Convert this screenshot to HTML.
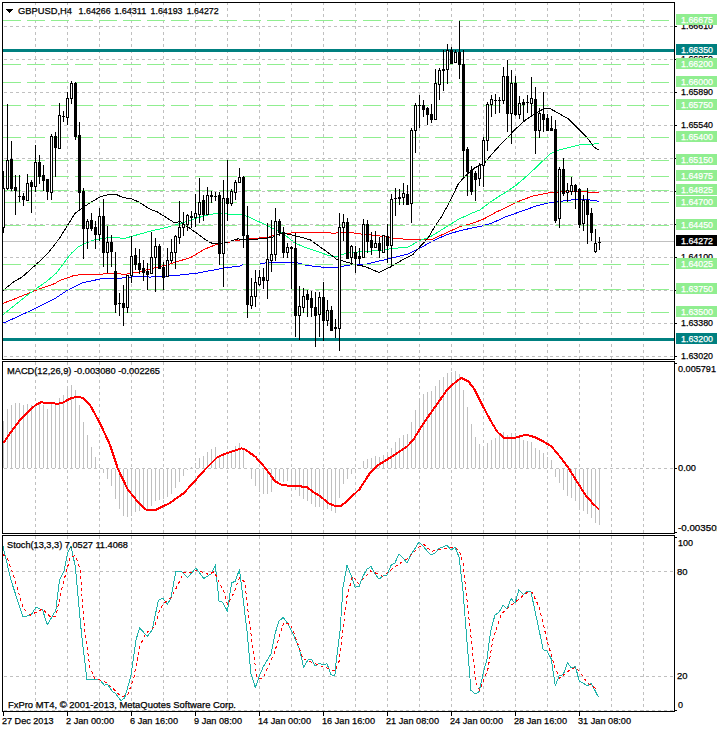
<!DOCTYPE html>
<html><head><meta charset="utf-8"><style>
html,body{margin:0;padding:0;background:#fff;width:717px;height:729px;overflow:hidden}
svg{position:absolute;left:0;top:0;font-family:"Liberation Sans", sans-serif}
</style></head><body>
<svg width="717" height="729" viewBox="0 0 717 729" shape-rendering="crispEdges">
<line x1="35.5" y1="3" x2="35.5" y2="359" stroke="#C0C0C0" stroke-dasharray="3 3" stroke-dashoffset="1"/>
<line x1="35.5" y1="362" x2="35.5" y2="533" stroke="#C0C0C0" stroke-dasharray="3 3" stroke-dashoffset="0"/>
<line x1="35.5" y1="536" x2="35.5" y2="711" stroke="#C0C0C0" stroke-dasharray="3 3" stroke-dashoffset="0"/>
<line x1="67.5" y1="3" x2="67.5" y2="359" stroke="#C0C0C0" stroke-dasharray="3 3" stroke-dashoffset="1"/>
<line x1="67.5" y1="362" x2="67.5" y2="533" stroke="#C0C0C0" stroke-dasharray="3 3" stroke-dashoffset="0"/>
<line x1="67.5" y1="536" x2="67.5" y2="711" stroke="#C0C0C0" stroke-dasharray="3 3" stroke-dashoffset="0"/>
<line x1="99.5" y1="3" x2="99.5" y2="359" stroke="#C0C0C0" stroke-dasharray="3 3" stroke-dashoffset="1"/>
<line x1="99.5" y1="362" x2="99.5" y2="533" stroke="#C0C0C0" stroke-dasharray="3 3" stroke-dashoffset="0"/>
<line x1="99.5" y1="536" x2="99.5" y2="711" stroke="#C0C0C0" stroke-dasharray="3 3" stroke-dashoffset="0"/>
<line x1="131.5" y1="3" x2="131.5" y2="359" stroke="#C0C0C0" stroke-dasharray="3 3" stroke-dashoffset="1"/>
<line x1="131.5" y1="362" x2="131.5" y2="533" stroke="#C0C0C0" stroke-dasharray="3 3" stroke-dashoffset="0"/>
<line x1="131.5" y1="536" x2="131.5" y2="711" stroke="#C0C0C0" stroke-dasharray="3 3" stroke-dashoffset="0"/>
<line x1="163.5" y1="3" x2="163.5" y2="359" stroke="#C0C0C0" stroke-dasharray="3 3" stroke-dashoffset="1"/>
<line x1="163.5" y1="362" x2="163.5" y2="533" stroke="#C0C0C0" stroke-dasharray="3 3" stroke-dashoffset="0"/>
<line x1="163.5" y1="536" x2="163.5" y2="711" stroke="#C0C0C0" stroke-dasharray="3 3" stroke-dashoffset="0"/>
<line x1="195.5" y1="3" x2="195.5" y2="359" stroke="#C0C0C0" stroke-dasharray="3 3" stroke-dashoffset="1"/>
<line x1="195.5" y1="362" x2="195.5" y2="533" stroke="#C0C0C0" stroke-dasharray="3 3" stroke-dashoffset="0"/>
<line x1="195.5" y1="536" x2="195.5" y2="711" stroke="#C0C0C0" stroke-dasharray="3 3" stroke-dashoffset="0"/>
<line x1="227.5" y1="3" x2="227.5" y2="359" stroke="#C0C0C0" stroke-dasharray="3 3" stroke-dashoffset="1"/>
<line x1="227.5" y1="362" x2="227.5" y2="533" stroke="#C0C0C0" stroke-dasharray="3 3" stroke-dashoffset="0"/>
<line x1="227.5" y1="536" x2="227.5" y2="711" stroke="#C0C0C0" stroke-dasharray="3 3" stroke-dashoffset="0"/>
<line x1="259.5" y1="3" x2="259.5" y2="359" stroke="#C0C0C0" stroke-dasharray="3 3" stroke-dashoffset="1"/>
<line x1="259.5" y1="362" x2="259.5" y2="533" stroke="#C0C0C0" stroke-dasharray="3 3" stroke-dashoffset="0"/>
<line x1="259.5" y1="536" x2="259.5" y2="711" stroke="#C0C0C0" stroke-dasharray="3 3" stroke-dashoffset="0"/>
<line x1="291.5" y1="3" x2="291.5" y2="359" stroke="#C0C0C0" stroke-dasharray="3 3" stroke-dashoffset="1"/>
<line x1="291.5" y1="362" x2="291.5" y2="533" stroke="#C0C0C0" stroke-dasharray="3 3" stroke-dashoffset="0"/>
<line x1="291.5" y1="536" x2="291.5" y2="711" stroke="#C0C0C0" stroke-dasharray="3 3" stroke-dashoffset="0"/>
<line x1="323.5" y1="3" x2="323.5" y2="359" stroke="#C0C0C0" stroke-dasharray="3 3" stroke-dashoffset="1"/>
<line x1="323.5" y1="362" x2="323.5" y2="533" stroke="#C0C0C0" stroke-dasharray="3 3" stroke-dashoffset="0"/>
<line x1="323.5" y1="536" x2="323.5" y2="711" stroke="#C0C0C0" stroke-dasharray="3 3" stroke-dashoffset="0"/>
<line x1="355.5" y1="3" x2="355.5" y2="359" stroke="#C0C0C0" stroke-dasharray="3 3" stroke-dashoffset="1"/>
<line x1="355.5" y1="362" x2="355.5" y2="533" stroke="#C0C0C0" stroke-dasharray="3 3" stroke-dashoffset="0"/>
<line x1="355.5" y1="536" x2="355.5" y2="711" stroke="#C0C0C0" stroke-dasharray="3 3" stroke-dashoffset="0"/>
<line x1="387.5" y1="3" x2="387.5" y2="359" stroke="#C0C0C0" stroke-dasharray="3 3" stroke-dashoffset="1"/>
<line x1="387.5" y1="362" x2="387.5" y2="533" stroke="#C0C0C0" stroke-dasharray="3 3" stroke-dashoffset="0"/>
<line x1="387.5" y1="536" x2="387.5" y2="711" stroke="#C0C0C0" stroke-dasharray="3 3" stroke-dashoffset="0"/>
<line x1="419.5" y1="3" x2="419.5" y2="359" stroke="#C0C0C0" stroke-dasharray="3 3" stroke-dashoffset="1"/>
<line x1="419.5" y1="362" x2="419.5" y2="533" stroke="#C0C0C0" stroke-dasharray="3 3" stroke-dashoffset="0"/>
<line x1="419.5" y1="536" x2="419.5" y2="711" stroke="#C0C0C0" stroke-dasharray="3 3" stroke-dashoffset="0"/>
<line x1="451.5" y1="3" x2="451.5" y2="359" stroke="#C0C0C0" stroke-dasharray="3 3" stroke-dashoffset="1"/>
<line x1="451.5" y1="362" x2="451.5" y2="533" stroke="#C0C0C0" stroke-dasharray="3 3" stroke-dashoffset="0"/>
<line x1="451.5" y1="536" x2="451.5" y2="711" stroke="#C0C0C0" stroke-dasharray="3 3" stroke-dashoffset="0"/>
<line x1="483.5" y1="3" x2="483.5" y2="359" stroke="#C0C0C0" stroke-dasharray="3 3" stroke-dashoffset="1"/>
<line x1="483.5" y1="362" x2="483.5" y2="533" stroke="#C0C0C0" stroke-dasharray="3 3" stroke-dashoffset="0"/>
<line x1="483.5" y1="536" x2="483.5" y2="711" stroke="#C0C0C0" stroke-dasharray="3 3" stroke-dashoffset="0"/>
<line x1="515.5" y1="3" x2="515.5" y2="359" stroke="#C0C0C0" stroke-dasharray="3 3" stroke-dashoffset="1"/>
<line x1="515.5" y1="362" x2="515.5" y2="533" stroke="#C0C0C0" stroke-dasharray="3 3" stroke-dashoffset="0"/>
<line x1="515.5" y1="536" x2="515.5" y2="711" stroke="#C0C0C0" stroke-dasharray="3 3" stroke-dashoffset="0"/>
<line x1="547.5" y1="3" x2="547.5" y2="359" stroke="#C0C0C0" stroke-dasharray="3 3" stroke-dashoffset="1"/>
<line x1="547.5" y1="362" x2="547.5" y2="533" stroke="#C0C0C0" stroke-dasharray="3 3" stroke-dashoffset="0"/>
<line x1="547.5" y1="536" x2="547.5" y2="711" stroke="#C0C0C0" stroke-dasharray="3 3" stroke-dashoffset="0"/>
<line x1="579.5" y1="3" x2="579.5" y2="359" stroke="#C0C0C0" stroke-dasharray="3 3" stroke-dashoffset="1"/>
<line x1="579.5" y1="362" x2="579.5" y2="533" stroke="#C0C0C0" stroke-dasharray="3 3" stroke-dashoffset="0"/>
<line x1="579.5" y1="536" x2="579.5" y2="711" stroke="#C0C0C0" stroke-dasharray="3 3" stroke-dashoffset="0"/>
<line x1="611.5" y1="3" x2="611.5" y2="359" stroke="#C0C0C0" stroke-dasharray="3 3" stroke-dashoffset="1"/>
<line x1="611.5" y1="362" x2="611.5" y2="533" stroke="#C0C0C0" stroke-dasharray="3 3" stroke-dashoffset="0"/>
<line x1="611.5" y1="536" x2="611.5" y2="711" stroke="#C0C0C0" stroke-dasharray="3 3" stroke-dashoffset="0"/>
<line x1="643.5" y1="3" x2="643.5" y2="359" stroke="#C0C0C0" stroke-dasharray="3 3" stroke-dashoffset="1"/>
<line x1="643.5" y1="362" x2="643.5" y2="533" stroke="#C0C0C0" stroke-dasharray="3 3" stroke-dashoffset="0"/>
<line x1="643.5" y1="536" x2="643.5" y2="711" stroke="#C0C0C0" stroke-dasharray="3 3" stroke-dashoffset="0"/>
<line x1="3" y1="26.5" x2="674" y2="26.5" stroke="#C0C0C0" stroke-dasharray="3 3" stroke-dashoffset="5"/>
<line x1="3" y1="59.5" x2="674" y2="59.5" stroke="#C0C0C0" stroke-dasharray="3 3" stroke-dashoffset="5"/>
<line x1="3" y1="92.5" x2="674" y2="92.5" stroke="#C0C0C0" stroke-dasharray="3 3" stroke-dashoffset="5"/>
<line x1="3" y1="125.5" x2="674" y2="125.5" stroke="#C0C0C0" stroke-dasharray="3 3" stroke-dashoffset="5"/>
<line x1="3" y1="158.5" x2="674" y2="158.5" stroke="#C0C0C0" stroke-dasharray="3 3" stroke-dashoffset="5"/>
<line x1="3" y1="191.5" x2="674" y2="191.5" stroke="#C0C0C0" stroke-dasharray="3 3" stroke-dashoffset="5"/>
<line x1="3" y1="224.5" x2="674" y2="224.5" stroke="#C0C0C0" stroke-dasharray="3 3" stroke-dashoffset="5"/>
<line x1="3" y1="257.5" x2="674" y2="257.5" stroke="#C0C0C0" stroke-dasharray="3 3" stroke-dashoffset="5"/>
<line x1="3" y1="290.5" x2="674" y2="290.5" stroke="#C0C0C0" stroke-dasharray="3 3" stroke-dashoffset="5"/>
<line x1="3" y1="323.5" x2="674" y2="323.5" stroke="#C0C0C0" stroke-dasharray="3 3" stroke-dashoffset="5"/>
<line x1="3" y1="356.5" x2="674" y2="356.5" stroke="#C0C0C0" stroke-dasharray="3 3" stroke-dashoffset="5"/>
<line x1="3" y1="468.5" x2="674" y2="468.5" stroke="#C0C0C0" stroke-dasharray="3 3" stroke-dashoffset="5"/>
<line x1="3" y1="571.5" x2="674" y2="571.5" stroke="#C0C0C0" stroke-dasharray="3 3" stroke-dashoffset="5"/>
<line x1="3" y1="676.5" x2="674" y2="676.5" stroke="#C0C0C0" stroke-dasharray="3 3" stroke-dashoffset="5"/>
<line x1="3" y1="710.5" x2="674" y2="710.5" stroke="#C0C0C0" stroke-dasharray="3 3" stroke-dashoffset="5"/>
<polyline points="2.7,323.3 13.7,318.5 32.9,309.6 54.9,298.6 67.2,290.4 70.6,288.7 82.7,282.7 100.8,278.9 120.4,278.2 138.5,276.3 150.0,277.1 177.4,275.3 198.0,273.0 215.9,269.6 226.8,267.5 239.7,266.3 243.0,264.5 259.0,264.5 261.3,263.3 271.4,262.5 296.5,262.5 306.5,265.3 315.3,266.5 330.0,267.8 337.5,267.2 352.6,264.5 364.5,264.5 390.6,258.4 397.8,256.6 407.8,254.0 420.0,248.1 433.7,240.5 447.4,234.4 461.2,230.3 481.7,226.1 491.3,223.4 505.0,217.1 520.4,211.6 535.9,206.1 546.0,203.5 549.0,202.5 554.0,202.3 573.6,199.6 589.0,199.9 599.0,201.3" fill="none" stroke="#0000FF" stroke-width="1"/>
<polyline points="2.7,303.4 13.7,299.3 35.7,290.4 54.9,283.5 60.0,280.4 75.1,275.1 97.8,274.4 112.9,273.3 124.9,274.4 138.5,272.1 150.0,268.9 163.7,265.5 172.0,263.4 191.2,257.2 204.9,249.0 217.2,244.2 226.8,242.8 240.0,239.9 256.3,238.3 268.9,237.0 277.7,234.1 287.7,233.3 302.8,232.0 330.0,232.9 335.0,233.6 337.5,232.4 352.6,232.6 355.1,233.6 367.7,234.5 382.7,236.4 397.8,238.9 420.0,239.4 432.3,239.2 447.4,232.3 461.2,226.1 472.1,223.4 483.1,219.3 496.8,211.7 505.0,208.2 518.7,201.3 532.4,196.2 551.3,192.4 577.0,191.0 590.7,192.4 599.0,192.4" fill="none" stroke="#FF0000" stroke-width="1"/>
<polyline points="2.7,315.0 13.7,306.1 24.7,297.2 35.7,289.0 46.6,281.4 56.2,273.2 64.5,262.2 71.3,253.3 78.2,247.1 85.0,243.4 93.2,240.1 105.3,238.1 114.4,237.1 123.4,238.6 131.0,236.6 141.5,233.6 150.0,231.2 163.7,228.1 177.4,224.3 188.4,220.9 196.6,218.1 207.6,215.0 215.9,213.6 226.8,214.0 240.0,214.4 247.5,216.3 255.1,220.1 265.1,224.5 272.6,228.2 277.7,230.8 285.2,235.1 295.2,243.3 305.3,247.4 315.3,250.8 330.0,255.9 336.3,256.5 346.3,253.3 365.1,251.2 380.2,250.8 390.2,248.7 407.8,247.1 420.0,240.5 431.0,236.4 442.0,229.6 458.4,219.3 472.1,213.1 480.4,209.7 491.3,201.4 499.6,196.0 505.0,192.7 515.3,185.9 527.3,175.6 539.3,164.4 549.6,154.2 558.2,150.2 570.2,147.3 580.4,144.7 590.7,144.4 599.0,143.4" fill="none" stroke="#00FF7F" stroke-width="1"/>
<polyline points="2.7,291.0 8.2,286.2 15.1,280.8 21.9,277.3 30.2,269.8 37.0,263.6 46.6,254.7 54.9,244.4 60.0,237.4 67.6,225.3 75.1,213.2 81.1,208.7 90.2,202.7 100.8,196.6 109.8,194.3 115.9,194.3 123.4,197.8 131.0,198.4 140.0,202.7 150.0,209.2 156.9,211.7 165.1,216.8 174.7,222.9 180.0,221.5 188.2,227.2 198.5,234.4 206.8,240.6 212.9,243.7 219.1,243.7 227.3,242.2 237.6,239.0 256.3,239.2 272.6,237.4 277.7,234.5 283.9,233.3 292.7,235.1 300.2,237.0 310.3,239.9 320.3,247.1 329.1,253.3 336.3,259.0 342.6,260.9 355.1,264.6 365.1,266.5 379.0,272.5 391.5,266.5 402.8,259.6 412.8,254.6 420.0,246.7 428.2,237.8 435.1,226.1 442.0,215.9 450.2,200.8 458.4,183.6 466.6,174.7 474.9,167.8 484.5,163.0 495.5,150.0 505.0,139.9 515.3,129.3 525.6,119.9 535.9,113.0 544.4,108.4 549.6,108.4 556.4,112.1 568.4,119.0 577.0,127.6 587.3,137.9 594.2,147.3 599.0,150.2" fill="none" stroke="#000000" stroke-width="1"/>
<line x1="3" y1="20.5" x2="674" y2="20.5" stroke="#90EE90" stroke-dasharray="18 6"/>
<line x1="3" y1="64.5" x2="674" y2="64.5" stroke="#90EE90" stroke-dasharray="18 6"/>
<line x1="3" y1="82.5" x2="674" y2="82.5" stroke="#90EE90" stroke-dasharray="18 6"/>
<line x1="3" y1="105.5" x2="674" y2="105.5" stroke="#90EE90" stroke-dasharray="18 6"/>
<line x1="3" y1="137.5" x2="674" y2="137.5" stroke="#90EE90" stroke-dasharray="18 6"/>
<line x1="3" y1="160.5" x2="674" y2="160.5" stroke="#90EE90" stroke-dasharray="18 6"/>
<line x1="3" y1="176.5" x2="674" y2="176.5" stroke="#90EE90" stroke-dasharray="18 6"/>
<line x1="3" y1="190.5" x2="674" y2="190.5" stroke="#90EE90" stroke-dasharray="18 6"/>
<line x1="3" y1="202.5" x2="674" y2="202.5" stroke="#90EE90" stroke-dasharray="18 6"/>
<line x1="3" y1="225.5" x2="674" y2="225.5" stroke="#90EE90" stroke-dasharray="18 6"/>
<line x1="3" y1="264.5" x2="674" y2="264.5" stroke="#90EE90" stroke-dasharray="18 6"/>
<line x1="3" y1="289.5" x2="674" y2="289.5" stroke="#90EE90" stroke-dasharray="18 6"/>
<line x1="3" y1="312.5" x2="674" y2="312.5" stroke="#90EE90" stroke-dasharray="18 6"/>
<line x1="3" y1="241.5" x2="674" y2="241.5" stroke="#C0C0C0"/>
<rect x="3" y="49" width="671" height="3" fill="#008080"/>
<rect x="3" y="338" width="671" height="3" fill="#008080"/>
<g fill="#000"><rect x="3" y="171" width="1" height="62"/><rect x="2" y="188" width="3" height="40"/><rect x="3" y="189" width="1" height="38" fill="#fff"/><rect x="7" y="104" width="1" height="86"/><rect x="6" y="160" width="3" height="29"/><rect x="7" y="161" width="1" height="27" fill="#fff"/><rect x="11" y="141" width="1" height="50"/><rect x="10" y="159" width="3" height="30"/><rect x="15" y="175" width="1" height="40"/><rect x="14" y="187" width="3" height="4"/><rect x="19" y="175" width="1" height="27"/><rect x="18" y="196" width="3" height="1"/><rect x="23" y="193" width="1" height="13"/><rect x="22" y="196" width="3" height="4"/><rect x="27" y="174" width="1" height="27"/><rect x="26" y="183" width="3" height="18"/><rect x="27" y="184" width="1" height="16" fill="#fff"/><rect x="31" y="180" width="1" height="33"/><rect x="30" y="182" width="3" height="5"/><rect x="35" y="145" width="1" height="47"/><rect x="34" y="162" width="3" height="25"/><rect x="35" y="163" width="1" height="23" fill="#fff"/><rect x="39" y="155" width="1" height="29"/><rect x="38" y="162" width="3" height="15"/><rect x="43" y="165" width="1" height="26"/><rect x="42" y="175" width="3" height="6"/><rect x="47" y="179" width="1" height="21"/><rect x="46" y="179" width="3" height="13"/><rect x="51" y="134" width="1" height="66"/><rect x="50" y="136" width="3" height="57"/><rect x="51" y="137" width="1" height="55" fill="#fff"/><rect x="55" y="132" width="1" height="45"/><rect x="54" y="136" width="3" height="12"/><rect x="59" y="103" width="1" height="46"/><rect x="58" y="115" width="3" height="34"/><rect x="59" y="116" width="1" height="32" fill="#fff"/><rect x="63" y="111" width="1" height="11"/><rect x="62" y="116" width="3" height="1"/><rect x="67" y="92" width="1" height="33"/><rect x="66" y="98" width="3" height="20"/><rect x="67" y="99" width="1" height="18" fill="#fff"/><rect x="71" y="81" width="1" height="23"/><rect x="70" y="83" width="3" height="16"/><rect x="71" y="84" width="1" height="14" fill="#fff"/><rect x="75" y="82" width="1" height="58"/><rect x="74" y="83" width="3" height="54"/><rect x="79" y="122" width="1" height="88"/><rect x="78" y="135" width="3" height="58"/><rect x="83" y="188" width="1" height="71"/><rect x="82" y="191" width="3" height="38"/><rect x="87" y="219" width="1" height="30"/><rect x="86" y="221" width="3" height="8"/><rect x="87" y="222" width="1" height="6" fill="#fff"/><rect x="91" y="213" width="1" height="18"/><rect x="90" y="220" width="3" height="9"/><rect x="95" y="221" width="1" height="28"/><rect x="94" y="227" width="3" height="8"/><rect x="99" y="208" width="1" height="33"/><rect x="98" y="216" width="3" height="19"/><rect x="99" y="217" width="1" height="17" fill="#fff"/><rect x="103" y="199" width="1" height="68"/><rect x="102" y="216" width="3" height="37"/><rect x="107" y="226" width="1" height="47"/><rect x="106" y="242" width="3" height="11"/><rect x="107" y="243" width="1" height="9" fill="#fff"/><rect x="111" y="235" width="1" height="32"/><rect x="110" y="242" width="3" height="10"/><rect x="115" y="252" width="1" height="61"/><rect x="114" y="271" width="3" height="34"/><rect x="119" y="293" width="1" height="23"/><rect x="118" y="303" width="3" height="1"/><rect x="123" y="285" width="1" height="41"/><rect x="122" y="303" width="3" height="5"/><rect x="127" y="275" width="1" height="38"/><rect x="126" y="275" width="3" height="33"/><rect x="127" y="276" width="1" height="31" fill="#fff"/><rect x="131" y="236" width="1" height="47"/><rect x="130" y="256" width="3" height="20"/><rect x="131" y="257" width="1" height="18" fill="#fff"/><rect x="135" y="248" width="1" height="22"/><rect x="134" y="255" width="3" height="10"/><rect x="139" y="249" width="1" height="25"/><rect x="138" y="263" width="3" height="7"/><rect x="143" y="260" width="1" height="21"/><rect x="142" y="268" width="3" height="5"/><rect x="147" y="263" width="1" height="27"/><rect x="146" y="271" width="3" height="4"/><rect x="151" y="232" width="1" height="42"/><rect x="150" y="257" width="3" height="17"/><rect x="151" y="258" width="1" height="15" fill="#fff"/><rect x="155" y="238" width="1" height="54"/><rect x="154" y="246" width="3" height="12"/><rect x="155" y="247" width="1" height="10" fill="#fff"/><rect x="159" y="244" width="1" height="25"/><rect x="158" y="246" width="3" height="23"/><rect x="163" y="262" width="1" height="28"/><rect x="162" y="267" width="3" height="11"/><rect x="167" y="248" width="1" height="29"/><rect x="166" y="260" width="3" height="17"/><rect x="167" y="261" width="1" height="15" fill="#fff"/><rect x="171" y="239" width="1" height="24"/><rect x="170" y="252" width="3" height="9"/><rect x="171" y="253" width="1" height="7" fill="#fff"/><rect x="175" y="235" width="1" height="34"/><rect x="174" y="236" width="3" height="17"/><rect x="175" y="237" width="1" height="15" fill="#fff"/><rect x="179" y="201" width="1" height="43"/><rect x="178" y="227" width="3" height="11"/><rect x="179" y="228" width="1" height="9" fill="#fff"/><rect x="183" y="212" width="1" height="24"/><rect x="182" y="224" width="3" height="4"/><rect x="183" y="225" width="1" height="2" fill="#fff"/><rect x="187" y="214" width="1" height="17"/><rect x="186" y="215" width="3" height="10"/><rect x="187" y="216" width="1" height="8" fill="#fff"/><rect x="191" y="211" width="1" height="17"/><rect x="190" y="216" width="3" height="2"/><rect x="195" y="194" width="1" height="33"/><rect x="194" y="213" width="3" height="5"/><rect x="195" y="214" width="1" height="3" fill="#fff"/><rect x="199" y="178" width="1" height="45"/><rect x="198" y="202" width="3" height="13"/><rect x="199" y="203" width="1" height="11" fill="#fff"/><rect x="203" y="195" width="1" height="26"/><rect x="202" y="200" width="3" height="15"/><rect x="207" y="187" width="1" height="28"/><rect x="206" y="195" width="3" height="20"/><rect x="207" y="196" width="1" height="18" fill="#fff"/><rect x="211" y="191" width="1" height="12"/><rect x="210" y="195" width="3" height="2"/><rect x="215" y="192" width="1" height="9"/><rect x="214" y="196" width="3" height="1"/><rect x="219" y="192" width="1" height="73"/><rect x="218" y="195" width="3" height="59"/><rect x="223" y="180" width="1" height="107"/><rect x="222" y="198" width="3" height="56"/><rect x="223" y="199" width="1" height="54" fill="#fff"/><rect x="227" y="160" width="1" height="61"/><rect x="226" y="198" width="3" height="6"/><rect x="231" y="189" width="1" height="17"/><rect x="230" y="191" width="3" height="13"/><rect x="231" y="192" width="1" height="11" fill="#fff"/><rect x="235" y="180" width="1" height="20"/><rect x="234" y="182" width="3" height="11"/><rect x="235" y="183" width="1" height="9" fill="#fff"/><rect x="239" y="168" width="1" height="15"/><rect x="238" y="177" width="3" height="6"/><rect x="239" y="178" width="1" height="4" fill="#fff"/><rect x="243" y="176" width="1" height="72"/><rect x="242" y="177" width="3" height="59"/><rect x="247" y="206" width="1" height="112"/><rect x="246" y="235" width="3" height="70"/><rect x="251" y="278" width="1" height="31"/><rect x="250" y="296" width="3" height="10"/><rect x="251" y="297" width="1" height="8" fill="#fff"/><rect x="255" y="270" width="1" height="37"/><rect x="254" y="282" width="3" height="15"/><rect x="255" y="283" width="1" height="13" fill="#fff"/><rect x="259" y="270" width="1" height="16"/><rect x="258" y="277" width="3" height="8"/><rect x="259" y="278" width="1" height="6" fill="#fff"/><rect x="263" y="268" width="1" height="21"/><rect x="262" y="277" width="3" height="4"/><rect x="267" y="223" width="1" height="76"/><rect x="266" y="259" width="3" height="22"/><rect x="267" y="260" width="1" height="20" fill="#fff"/><rect x="271" y="220" width="1" height="52"/><rect x="270" y="254" width="3" height="7"/><rect x="271" y="255" width="1" height="5" fill="#fff"/><rect x="275" y="208" width="1" height="53"/><rect x="274" y="221" width="3" height="34"/><rect x="275" y="222" width="1" height="32" fill="#fff"/><rect x="279" y="219" width="1" height="17"/><rect x="278" y="221" width="3" height="12"/><rect x="283" y="227" width="1" height="31"/><rect x="282" y="232" width="3" height="21"/><rect x="287" y="243" width="1" height="15"/><rect x="286" y="247" width="3" height="6"/><rect x="287" y="248" width="1" height="4" fill="#fff"/><rect x="291" y="246" width="1" height="43"/><rect x="290" y="247" width="3" height="2"/><rect x="295" y="233" width="1" height="104"/><rect x="294" y="248" width="3" height="68"/><rect x="299" y="286" width="1" height="54"/><rect x="298" y="306" width="3" height="10"/><rect x="299" y="307" width="1" height="8" fill="#fff"/><rect x="303" y="288" width="1" height="25"/><rect x="302" y="296" width="3" height="12"/><rect x="303" y="297" width="1" height="10" fill="#fff"/><rect x="307" y="290" width="1" height="27"/><rect x="306" y="294" width="3" height="6"/><rect x="311" y="291" width="1" height="26"/><rect x="310" y="298" width="3" height="10"/><rect x="315" y="292" width="1" height="55"/><rect x="314" y="307" width="3" height="9"/><rect x="319" y="292" width="1" height="45"/><rect x="318" y="297" width="3" height="18"/><rect x="319" y="298" width="1" height="16" fill="#fff"/><rect x="323" y="282" width="1" height="59"/><rect x="322" y="297" width="3" height="24"/><rect x="327" y="300" width="1" height="26"/><rect x="326" y="310" width="3" height="11"/><rect x="327" y="311" width="1" height="9" fill="#fff"/><rect x="331" y="306" width="1" height="25"/><rect x="330" y="310" width="3" height="21"/><rect x="335" y="319" width="1" height="19"/><rect x="334" y="327" width="3" height="2"/><rect x="339" y="213" width="1" height="138"/><rect x="338" y="227" width="3" height="102"/><rect x="339" y="228" width="1" height="100" fill="#fff"/><rect x="343" y="214" width="1" height="27"/><rect x="342" y="222" width="3" height="6"/><rect x="343" y="223" width="1" height="4" fill="#fff"/><rect x="347" y="218" width="1" height="41"/><rect x="346" y="222" width="3" height="37"/><rect x="351" y="245" width="1" height="20"/><rect x="350" y="246" width="3" height="12"/><rect x="351" y="247" width="1" height="10" fill="#fff"/><rect x="355" y="246" width="1" height="27"/><rect x="354" y="252" width="3" height="7"/><rect x="359" y="248" width="1" height="16"/><rect x="358" y="256" width="3" height="3"/><rect x="363" y="219" width="1" height="39"/><rect x="362" y="224" width="3" height="34"/><rect x="363" y="225" width="1" height="32" fill="#fff"/><rect x="367" y="220" width="1" height="33"/><rect x="366" y="224" width="3" height="18"/><rect x="371" y="232" width="1" height="23"/><rect x="370" y="240" width="3" height="8"/><rect x="375" y="231" width="1" height="17"/><rect x="374" y="243" width="3" height="5"/><rect x="375" y="244" width="1" height="3" fill="#fff"/><rect x="379" y="237" width="1" height="21"/><rect x="378" y="243" width="3" height="8"/><rect x="383" y="235" width="1" height="18"/><rect x="382" y="235" width="3" height="18"/><rect x="383" y="236" width="1" height="16" fill="#fff"/><rect x="387" y="224" width="1" height="39"/><rect x="386" y="236" width="3" height="10"/><rect x="391" y="194" width="1" height="73"/><rect x="390" y="199" width="3" height="47"/><rect x="391" y="200" width="1" height="45" fill="#fff"/><rect x="395" y="188" width="1" height="28"/><rect x="394" y="198" width="3" height="1"/><rect x="399" y="189" width="1" height="16"/><rect x="398" y="197" width="3" height="2"/><rect x="403" y="183" width="1" height="22"/><rect x="402" y="193" width="3" height="5"/><rect x="403" y="194" width="1" height="3" fill="#fff"/><rect x="407" y="185" width="1" height="20"/><rect x="406" y="194" width="3" height="11"/><rect x="411" y="128" width="1" height="95"/><rect x="410" y="130" width="3" height="74"/><rect x="411" y="131" width="1" height="72" fill="#fff"/><rect x="415" y="103" width="1" height="50"/><rect x="414" y="105" width="3" height="26"/><rect x="415" y="106" width="1" height="24" fill="#fff"/><rect x="419" y="95" width="1" height="33"/><rect x="418" y="105" width="3" height="1"/><rect x="423" y="100" width="1" height="17"/><rect x="422" y="105" width="3" height="5"/><rect x="427" y="107" width="1" height="18"/><rect x="426" y="108" width="3" height="7"/><rect x="431" y="104" width="1" height="19"/><rect x="430" y="114" width="3" height="6"/><rect x="435" y="69" width="1" height="51"/><rect x="434" y="83" width="3" height="37"/><rect x="435" y="84" width="1" height="35" fill="#fff"/><rect x="439" y="68" width="1" height="32"/><rect x="438" y="70" width="3" height="15"/><rect x="439" y="71" width="1" height="13" fill="#fff"/><rect x="443" y="50" width="1" height="41"/><rect x="442" y="69" width="3" height="2"/><rect x="447" y="44" width="1" height="40"/><rect x="446" y="50" width="3" height="20"/><rect x="447" y="51" width="1" height="18" fill="#fff"/><rect x="451" y="47" width="1" height="17"/><rect x="450" y="50" width="3" height="14"/><rect x="455" y="50" width="1" height="13"/><rect x="454" y="52" width="3" height="11"/><rect x="455" y="53" width="1" height="9" fill="#fff"/><rect x="459" y="21" width="1" height="58"/><rect x="458" y="52" width="3" height="13"/><rect x="463" y="50" width="1" height="129"/><rect x="462" y="64" width="3" height="87"/><rect x="467" y="147" width="1" height="49"/><rect x="466" y="149" width="3" height="23"/><rect x="471" y="166" width="1" height="29"/><rect x="470" y="170" width="3" height="22"/><rect x="475" y="171" width="1" height="30"/><rect x="474" y="173" width="3" height="7"/><rect x="479" y="163" width="1" height="23"/><rect x="478" y="165" width="3" height="14"/><rect x="479" y="166" width="1" height="12" fill="#fff"/><rect x="483" y="137" width="1" height="50"/><rect x="482" y="140" width="3" height="26"/><rect x="483" y="141" width="1" height="24" fill="#fff"/><rect x="487" y="102" width="1" height="49"/><rect x="486" y="104" width="3" height="37"/><rect x="487" y="105" width="1" height="35" fill="#fff"/><rect x="491" y="95" width="1" height="22"/><rect x="490" y="99" width="3" height="6"/><rect x="491" y="100" width="1" height="4" fill="#fff"/><rect x="495" y="94" width="1" height="20"/><rect x="494" y="100" width="3" height="1"/><rect x="499" y="97" width="1" height="16"/><rect x="498" y="100" width="3" height="1"/><rect x="503" y="67" width="1" height="37"/><rect x="502" y="76" width="3" height="25"/><rect x="503" y="77" width="1" height="23" fill="#fff"/><rect x="507" y="60" width="1" height="72"/><rect x="506" y="76" width="3" height="38"/><rect x="511" y="70" width="1" height="74"/><rect x="510" y="83" width="3" height="31"/><rect x="511" y="84" width="1" height="29" fill="#fff"/><rect x="515" y="76" width="1" height="40"/><rect x="514" y="83" width="3" height="32"/><rect x="519" y="96" width="1" height="23"/><rect x="518" y="103" width="3" height="12"/><rect x="519" y="104" width="1" height="10" fill="#fff"/><rect x="523" y="99" width="1" height="22"/><rect x="522" y="102" width="3" height="3"/><rect x="527" y="95" width="1" height="18"/><rect x="526" y="102" width="3" height="1"/><rect x="531" y="77" width="1" height="38"/><rect x="530" y="98" width="3" height="6"/><rect x="531" y="99" width="1" height="4" fill="#fff"/><rect x="535" y="87" width="1" height="67"/><rect x="534" y="99" width="3" height="32"/><rect x="539" y="108" width="1" height="30"/><rect x="538" y="113" width="3" height="18"/><rect x="539" y="114" width="1" height="16" fill="#fff"/><rect x="543" y="92" width="1" height="40"/><rect x="542" y="114" width="3" height="6"/><rect x="547" y="114" width="1" height="17"/><rect x="546" y="118" width="3" height="13"/><rect x="551" y="116" width="1" height="15"/><rect x="550" y="128" width="3" height="3"/><rect x="555" y="120" width="1" height="103"/><rect x="554" y="129" width="3" height="92"/><rect x="559" y="167" width="1" height="61"/><rect x="558" y="169" width="3" height="50"/><rect x="559" y="170" width="1" height="48" fill="#fff"/><rect x="563" y="158" width="1" height="38"/><rect x="562" y="169" width="3" height="25"/><rect x="567" y="183" width="1" height="19"/><rect x="566" y="190" width="3" height="3"/><rect x="567" y="191" width="1" height="1" fill="#fff"/><rect x="571" y="177" width="1" height="18"/><rect x="570" y="185" width="3" height="7"/><rect x="571" y="186" width="1" height="5" fill="#fff"/><rect x="575" y="184" width="1" height="25"/><rect x="574" y="185" width="3" height="7"/><rect x="579" y="188" width="1" height="40"/><rect x="578" y="189" width="3" height="36"/><rect x="583" y="195" width="1" height="36"/><rect x="582" y="200" width="3" height="24"/><rect x="583" y="201" width="1" height="22" fill="#fff"/><rect x="587" y="188" width="1" height="56"/><rect x="586" y="200" width="3" height="15"/><rect x="591" y="208" width="1" height="33"/><rect x="590" y="213" width="3" height="20"/><rect x="595" y="229" width="1" height="24"/><rect x="594" y="243" width="3" height="9"/><rect x="595" y="244" width="1" height="7" fill="#fff"/><rect x="599" y="237" width="1" height="13"/><rect x="598" y="242" width="3" height="1"/></g>
<g fill="#C0C0C0"><rect x="3" y="421" width="1" height="47"/><rect x="7" y="409" width="1" height="59"/><rect x="11" y="405" width="1" height="63"/><rect x="15" y="403" width="1" height="65"/><rect x="19" y="403" width="1" height="65"/><rect x="23" y="405" width="1" height="63"/><rect x="27" y="404" width="1" height="64"/><rect x="31" y="405" width="1" height="63"/><rect x="35" y="404" width="1" height="64"/><rect x="39" y="403" width="1" height="65"/><rect x="43" y="405" width="1" height="63"/><rect x="47" y="409" width="1" height="59"/><rect x="51" y="404" width="1" height="64"/><rect x="55" y="404" width="1" height="64"/><rect x="59" y="398" width="1" height="70"/><rect x="63" y="395" width="1" height="73"/><rect x="67" y="386" width="1" height="82"/><rect x="71" y="385" width="1" height="83"/><rect x="75" y="390" width="1" height="78"/><rect x="79" y="405" width="1" height="63"/><rect x="83" y="422" width="1" height="46"/><rect x="87" y="435" width="1" height="33"/><rect x="91" y="447" width="1" height="21"/><rect x="95" y="457" width="1" height="11"/><rect x="99" y="464" width="1" height="4"/><rect x="103" y="469" width="1" height="4"/><rect x="107" y="469" width="1" height="10"/><rect x="111" y="469" width="1" height="17"/><rect x="115" y="469" width="1" height="30"/><rect x="119" y="469" width="1" height="40"/><rect x="123" y="469" width="1" height="47"/><rect x="127" y="469" width="1" height="48"/><rect x="131" y="469" width="1" height="47"/><rect x="135" y="469" width="1" height="43"/><rect x="139" y="469" width="1" height="42"/><rect x="143" y="469" width="1" height="39"/><rect x="147" y="469" width="1" height="40"/><rect x="151" y="469" width="1" height="37"/><rect x="155" y="469" width="1" height="32"/><rect x="159" y="469" width="1" height="31"/><rect x="163" y="469" width="1" height="30"/><rect x="167" y="469" width="1" height="28"/><rect x="171" y="469" width="1" height="25"/><rect x="175" y="469" width="1" height="19"/><rect x="179" y="469" width="1" height="13"/><rect x="183" y="469" width="1" height="7"/><rect x="187" y="469" width="1" height="1"/><rect x="191" y="467" width="1" height="1"/><rect x="195" y="463" width="1" height="5"/><rect x="199" y="458" width="1" height="10"/><rect x="203" y="456" width="1" height="12"/><rect x="207" y="452" width="1" height="16"/><rect x="211" y="449" width="1" height="19"/><rect x="215" y="447" width="1" height="21"/><rect x="219" y="456" width="1" height="12"/><rect x="223" y="454" width="1" height="14"/><rect x="227" y="451" width="1" height="17"/><rect x="231" y="450" width="1" height="18"/><rect x="235" y="446" width="1" height="22"/><rect x="239" y="443" width="1" height="25"/><rect x="243" y="449" width="1" height="19"/><rect x="251" y="469" width="1" height="10"/><rect x="255" y="469" width="1" height="17"/><rect x="259" y="469" width="1" height="23"/><rect x="263" y="469" width="1" height="25"/><rect x="267" y="469" width="1" height="25"/><rect x="271" y="469" width="1" height="23"/><rect x="275" y="469" width="1" height="12"/><rect x="279" y="469" width="1" height="12"/><rect x="283" y="469" width="1" height="13"/><rect x="287" y="469" width="1" height="12"/><rect x="291" y="469" width="1" height="15"/><rect x="295" y="469" width="1" height="21"/><rect x="299" y="469" width="1" height="27"/><rect x="303" y="469" width="1" height="30"/><rect x="307" y="469" width="1" height="32"/><rect x="311" y="469" width="1" height="35"/><rect x="315" y="469" width="1" height="38"/><rect x="319" y="469" width="1" height="38"/><rect x="323" y="469" width="1" height="41"/><rect x="327" y="469" width="1" height="40"/><rect x="331" y="469" width="1" height="42"/><rect x="335" y="469" width="1" height="44"/><rect x="339" y="469" width="1" height="29"/><rect x="343" y="469" width="1" height="15"/><rect x="347" y="469" width="1" height="10"/><rect x="351" y="469" width="1" height="5"/><rect x="355" y="469" width="1" height="2"/><rect x="363" y="461" width="1" height="7"/><rect x="367" y="459" width="1" height="9"/><rect x="371" y="458" width="1" height="10"/><rect x="375" y="456" width="1" height="12"/><rect x="379" y="457" width="1" height="11"/><rect x="383" y="455" width="1" height="13"/><rect x="387" y="452" width="1" height="16"/><rect x="391" y="448" width="1" height="20"/><rect x="395" y="442" width="1" height="26"/><rect x="399" y="438" width="1" height="30"/><rect x="403" y="435" width="1" height="33"/><rect x="407" y="434" width="1" height="34"/><rect x="411" y="422" width="1" height="46"/><rect x="415" y="410" width="1" height="58"/><rect x="419" y="398" width="1" height="70"/><rect x="423" y="394" width="1" height="74"/><rect x="427" y="392" width="1" height="76"/><rect x="431" y="391" width="1" height="77"/><rect x="435" y="386" width="1" height="82"/><rect x="439" y="380" width="1" height="88"/><rect x="443" y="377" width="1" height="91"/><rect x="447" y="373" width="1" height="95"/><rect x="451" y="372" width="1" height="96"/><rect x="455" y="371" width="1" height="97"/><rect x="459" y="374" width="1" height="94"/><rect x="463" y="390" width="1" height="78"/><rect x="467" y="407" width="1" height="61"/><rect x="471" y="424" width="1" height="44"/><rect x="475" y="437" width="1" height="31"/><rect x="479" y="444" width="1" height="24"/><rect x="483" y="446" width="1" height="22"/><rect x="487" y="443" width="1" height="25"/><rect x="491" y="440" width="1" height="28"/><rect x="495" y="438" width="1" height="30"/><rect x="499" y="435" width="1" height="33"/><rect x="503" y="432" width="1" height="36"/><rect x="507" y="435" width="1" height="33"/><rect x="511" y="433" width="1" height="35"/><rect x="515" y="433" width="1" height="35"/><rect x="519" y="436" width="1" height="32"/><rect x="523" y="440" width="1" height="28"/><rect x="527" y="441" width="1" height="27"/><rect x="531" y="442" width="1" height="26"/><rect x="535" y="448" width="1" height="20"/><rect x="539" y="450" width="1" height="18"/><rect x="543" y="453" width="1" height="15"/><rect x="547" y="457" width="1" height="11"/><rect x="551" y="460" width="1" height="8"/><rect x="555" y="469" width="1" height="8"/><rect x="559" y="469" width="1" height="14"/><rect x="563" y="469" width="1" height="21"/><rect x="567" y="469" width="1" height="27"/><rect x="571" y="469" width="1" height="29"/><rect x="575" y="469" width="1" height="32"/><rect x="579" y="469" width="1" height="41"/><rect x="583" y="469" width="1" height="42"/><rect x="587" y="469" width="1" height="45"/><rect x="591" y="469" width="1" height="49"/><rect x="595" y="469" width="1" height="54"/><rect x="599" y="469" width="1" height="56"/></g>
<polyline points="3.5,442.8 11.2,431.6 20.9,419.0 29.3,410.7 36.3,404.4 41.1,402.3 47.4,403.0 57.9,403.7 63.5,402.3 71.1,398.1 77.4,396.7 83.0,397.9 90.0,404.9 99.9,423.0 109.8,444.4 118.0,469.1 127.9,489.7 139.4,503.7 146.0,509.5 156.7,509.5 170.0,502.9 183.8,493.1 195.8,479.9 205.4,469.1 217.4,457.1 227.0,453.1 234.2,450.7 241.4,448.3 246.1,450.0 255.7,457.1 265.3,467.9 274.9,481.1 282.1,485.2 300.0,486.3 307.2,487.3 312.4,491.4 320.6,496.6 328.8,503.4 335.0,505.9 341.2,505.9 347.3,500.7 359.7,489.0 370.0,472.9 377.2,465.7 386.5,460.0 396.7,453.4 407.0,446.6 413.2,440.0 415.0,437.0 423.2,423.7 435.6,406.2 447.9,388.7 455.1,382.5 461.3,377.8 468.5,381.5 474.7,389.7 482.9,406.2 491.2,421.6 497.3,431.9 503.5,437.5 515.9,437.5 525.8,434.7 534.8,437.1 543.0,441.3 551.3,446.2 559.5,456.1 567.7,466.8 575.9,479.9 585.8,495.6 592.4,503.0 599.0,509.5" fill="none" stroke="#FF0000" stroke-width="2" stroke-linejoin="round"/>
<polyline points="2.9,545.9 10.9,579.9 23.0,617.1 31.1,615.1 35.9,607.3 42.5,609.8 47.3,624.8 55.8,610.3 59.5,579.9 64.3,570.2 67.5,553.2 70.9,545.9 75.3,566.6 78.4,600.0 81.5,633.8 86.9,679.1 95.3,679.9 99.9,679.9 104.5,685.3 107.6,684.2 112.2,691.4 115.3,693.0 120.7,700.6 124.5,698.3 130.7,676.8 136.0,639.9 139.6,627.7 147.3,636.6 152.1,630.0 158.4,600.2 162.6,598.1 167.4,604.4 170.9,598.1 175.8,571.6 181.4,571.6 187.4,577.6 196.0,568.1 203.7,578.6 211.4,573.7 215.3,565.3 219.0,600.9 222.5,602.3 227.4,611.1 231.6,582.8 235.1,581.4 239.5,569.5 246.9,630.0 250.9,673.4 255.3,687.5 259.4,675.8 263.0,667.3 271.0,654.0 275.2,633.3 278.8,621.2 283.2,617.5 287.3,622.9 293.4,634.5 299.4,649.1 303.6,667.3 308.0,660.0 311.6,659.5 315.0,666.1 319.0,663.2 323.0,664.9 327.0,663.7 331.0,674.6 334.8,676.0 336.2,661.4 340.0,631.4 343.0,587.2 347.0,565.3 351.0,575.1 355.0,587.2 359.0,586.5 363.0,576.3 367.0,569.0 371.0,566.6 375.0,573.8 379.0,579.2 383.0,575.8 387.0,575.1 391.0,565.3 395.0,562.9 399.0,553.9 403.0,558.1 407.0,562.9 411.0,554.4 415.0,548.4 419.0,541.8 423.0,545.9 427.0,550.8 431.0,554.9 435.0,553.2 439.0,548.4 443.0,547.1 447.0,545.2 451.0,550.0 455.0,547.1 459.0,556.8 463.0,590.8 467.0,641.8 471.0,690.4 475.2,694.0 479.1,691.6 483.2,673.4 487.0,658.8 490.5,632.1 494.9,615.1 499.0,612.2 503.1,605.4 507.0,609.0 511.1,598.6 515.0,603.0 518.9,589.6 523.3,594.5 527.2,591.3 531.0,592.0 534.9,610.3 539.0,629.7 543.2,649.6 547.1,651.0 551.2,658.8 555.3,685.5 559.2,675.8 563.3,674.6 567.5,662.5 571.3,668.0 575.5,666.6 579.1,680.7 583.2,683.1 587.1,686.0 591.2,683.1 594.9,690.4 598.5,697.2" fill="none" stroke="#20B2AA" stroke-width="1"/>
<polyline points="2.9,554.4 7.3,558.0 14.6,578.7 23.0,607.8 30.3,615.1 42.5,609.0 51.0,617.5 55.8,616.3 63.1,583.6 70.4,556.8 75.3,555.6 80.1,569.0 82.3,600.0 85.3,635.3 90.0,667.6 94.6,678.3 104.5,681.4 112.2,687.5 121.4,696.8 127.6,695.2 133.7,678.3 139.9,646.1 146.0,633.0 154.2,627.4 159.8,610.0 164.0,603.0 170.9,598.1 177.9,584.9 183.5,572.3 190.4,573.0 197.4,570.2 203.0,572.3 208.6,574.4 214.2,571.6 218.3,580.6 223.9,591.8 227.4,604.4 233.7,593.2 239.3,577.9 244.8,582.1 249.0,619.7 257.0,678.2 263.0,678.2 274.0,654.0 283.7,622.4 291.0,624.8 303.1,658.8 315.0,663.7 335.0,671.0 339.1,661.2 346.9,596.9 352.5,576.3 358.6,583.6 370.7,570.9 382.8,576.3 395.0,566.6 407.1,558.8 419.2,547.1 423.6,544.2 431.4,551.5 443.5,548.4 455.2,547.1 459.3,550.8 463.0,562.9 468.6,615.0 476.0,683.0 479.6,690.4 488.0,668.5 492.9,639.4 501.4,613.9 511.1,605.4 527.6,592.0 531.8,592.0 539.0,606.6 547.5,641.8 554.8,667.3 559.7,678.2 571.8,668.5 576.2,667.3 587.6,683.0 598.5,690.4" fill="none" stroke="#FF0000" stroke-width="1" stroke-dasharray="3 3"/>
<rect x="2.5" y="2.5" width="672" height="357" fill="none" stroke="#000"/>
<rect x="2.5" y="361.5" width="672" height="172" fill="none" stroke="#000"/>
<rect x="2.5" y="535.5" width="672" height="176" fill="none" stroke="#000"/>
<line x1="674" y1="26.5" x2="677" y2="26.5" stroke="#000"/>
<text x="681" y="29" fill="#000" stroke="#000" stroke-width="0.25" font-size="9.6" textLength="32" lengthAdjust="spacingAndGlyphs">1.66610</text>
<line x1="674" y1="59.5" x2="677" y2="59.5" stroke="#000"/>
<text x="681" y="62" fill="#000" stroke="#000" stroke-width="0.25" font-size="9.6" textLength="32" lengthAdjust="spacingAndGlyphs">1.66250</text>
<line x1="674" y1="92.5" x2="677" y2="92.5" stroke="#000"/>
<text x="681" y="95" fill="#000" stroke="#000" stroke-width="0.25" font-size="9.6" textLength="32" lengthAdjust="spacingAndGlyphs">1.65890</text>
<line x1="674" y1="125.5" x2="677" y2="125.5" stroke="#000"/>
<text x="681" y="128" fill="#000" stroke="#000" stroke-width="0.25" font-size="9.6" textLength="32" lengthAdjust="spacingAndGlyphs">1.65540</text>
<line x1="674" y1="158.5" x2="677" y2="158.5" stroke="#000"/>
<text x="681" y="161" fill="#000" stroke="#000" stroke-width="0.25" font-size="9.6" textLength="32" lengthAdjust="spacingAndGlyphs">1.65180</text>
<line x1="674" y1="191.5" x2="677" y2="191.5" stroke="#000"/>
<text x="681" y="194" fill="#000" stroke="#000" stroke-width="0.25" font-size="9.6" textLength="32" lengthAdjust="spacingAndGlyphs">1.64820</text>
<line x1="674" y1="224.5" x2="677" y2="224.5" stroke="#000"/>
<text x="681" y="227" fill="#000" stroke="#000" stroke-width="0.25" font-size="9.6" textLength="32" lengthAdjust="spacingAndGlyphs">1.64460</text>
<line x1="674" y1="257.5" x2="677" y2="257.5" stroke="#000"/>
<text x="681" y="260" fill="#000" stroke="#000" stroke-width="0.25" font-size="9.6" textLength="32" lengthAdjust="spacingAndGlyphs">1.64100</text>
<line x1="674" y1="290.5" x2="677" y2="290.5" stroke="#000"/>
<text x="681" y="293" fill="#000" stroke="#000" stroke-width="0.25" font-size="9.6" textLength="32" lengthAdjust="spacingAndGlyphs">1.63740</text>
<line x1="674" y1="323.5" x2="677" y2="323.5" stroke="#000"/>
<text x="681" y="326" fill="#000" stroke="#000" stroke-width="0.25" font-size="9.6" textLength="32" lengthAdjust="spacingAndGlyphs">1.63380</text>
<line x1="674" y1="356.5" x2="677" y2="356.5" stroke="#000"/>
<text x="681" y="359" fill="#000" stroke="#000" stroke-width="0.25" font-size="9.6" textLength="32" lengthAdjust="spacingAndGlyphs">1.63020</text>
<rect x="676" y="14" width="41" height="11" fill="#90EE90"/>
<text x="681" y="23" fill="#fff" stroke="#fff" stroke-width="0.25" font-size="9.6" textLength="32" lengthAdjust="spacingAndGlyphs">1.66675</text>
<rect x="676" y="58" width="41" height="11" fill="#90EE90"/>
<text x="681" y="67" fill="#fff" stroke="#fff" stroke-width="0.25" font-size="9.6" textLength="32" lengthAdjust="spacingAndGlyphs">1.66200</text>
<rect x="676" y="76" width="41" height="11" fill="#90EE90"/>
<text x="681" y="85" fill="#fff" stroke="#fff" stroke-width="0.25" font-size="9.6" textLength="32" lengthAdjust="spacingAndGlyphs">1.66000</text>
<rect x="676" y="99" width="41" height="11" fill="#90EE90"/>
<text x="681" y="108" fill="#fff" stroke="#fff" stroke-width="0.25" font-size="9.6" textLength="32" lengthAdjust="spacingAndGlyphs">1.65750</text>
<rect x="676" y="131" width="41" height="11" fill="#90EE90"/>
<text x="681" y="140" fill="#fff" stroke="#fff" stroke-width="0.25" font-size="9.6" textLength="32" lengthAdjust="spacingAndGlyphs">1.65400</text>
<rect x="676" y="154" width="41" height="11" fill="#90EE90"/>
<text x="681" y="163" fill="#fff" stroke="#fff" stroke-width="0.25" font-size="9.6" textLength="32" lengthAdjust="spacingAndGlyphs">1.65150</text>
<rect x="676" y="170" width="41" height="11" fill="#90EE90"/>
<text x="681" y="179" fill="#fff" stroke="#fff" stroke-width="0.25" font-size="9.6" textLength="32" lengthAdjust="spacingAndGlyphs">1.64975</text>
<rect x="676" y="184" width="41" height="11" fill="#90EE90"/>
<text x="681" y="193" fill="#fff" stroke="#fff" stroke-width="0.25" font-size="9.6" textLength="32" lengthAdjust="spacingAndGlyphs">1.64825</text>
<rect x="676" y="196" width="41" height="11" fill="#90EE90"/>
<text x="681" y="205" fill="#fff" stroke="#fff" stroke-width="0.25" font-size="9.6" textLength="32" lengthAdjust="spacingAndGlyphs">1.64700</text>
<rect x="676" y="219" width="41" height="11" fill="#90EE90"/>
<text x="681" y="228" fill="#fff" stroke="#fff" stroke-width="0.25" font-size="9.6" textLength="32" lengthAdjust="spacingAndGlyphs">1.64450</text>
<rect x="676" y="258" width="41" height="11" fill="#90EE90"/>
<text x="681" y="267" fill="#fff" stroke="#fff" stroke-width="0.25" font-size="9.6" textLength="32" lengthAdjust="spacingAndGlyphs">1.64025</text>
<rect x="676" y="283" width="41" height="11" fill="#90EE90"/>
<text x="681" y="292" fill="#fff" stroke="#fff" stroke-width="0.25" font-size="9.6" textLength="32" lengthAdjust="spacingAndGlyphs">1.63750</text>
<rect x="676" y="306" width="41" height="11" fill="#90EE90"/>
<text x="681" y="315" fill="#fff" stroke="#fff" stroke-width="0.25" font-size="9.6" textLength="32" lengthAdjust="spacingAndGlyphs">1.63500</text>
<rect x="676" y="44" width="41" height="11" fill="#008080"/>
<text x="681" y="53" fill="#fff" stroke="#fff" stroke-width="0.25" font-size="9.6" textLength="32" lengthAdjust="spacingAndGlyphs">1.66350</text>
<rect x="676" y="333" width="41" height="11" fill="#008080"/>
<text x="681" y="342" fill="#fff" stroke="#fff" stroke-width="0.25" font-size="9.6" textLength="32" lengthAdjust="spacingAndGlyphs">1.63200</text>
<rect x="676" y="235" width="41" height="11" fill="#000"/>
<text x="681" y="244" fill="#fff" stroke="#fff" stroke-width="0.25" font-size="9.6" textLength="32" lengthAdjust="spacingAndGlyphs">1.64272</text>
<line x1="674" y1="363.5" x2="677" y2="363.5" stroke="#000"/>
<line x1="674" y1="468.5" x2="677" y2="468.5" stroke="#000"/>
<line x1="674" y1="532.5" x2="677" y2="532.5" stroke="#000"/>
<line x1="674" y1="537.5" x2="677" y2="537.5" stroke="#000"/>
<line x1="674" y1="710.5" x2="677" y2="710.5" stroke="#000"/>
<text x="678" y="372" fill="#000" stroke="#000" stroke-width="0.25" font-size="9.6" textLength="38" lengthAdjust="spacingAndGlyphs">0.005791</text>
<text x="678" y="471" fill="#000" stroke="#000" stroke-width="0.25" font-size="9.6" textLength="18" lengthAdjust="spacingAndGlyphs">0.00</text>
<text x="678" y="531" fill="#000" stroke="#000" stroke-width="0.25" font-size="9.6" textLength="44" lengthAdjust="spacingAndGlyphs">-0.003502</text>
<text x="678" y="546" fill="#000" stroke="#000" stroke-width="0.25" font-size="9.6" textLength="15" lengthAdjust="spacingAndGlyphs">100</text>
<text x="677" y="575" fill="#000" stroke="#000" stroke-width="0.25" font-size="9.6" textLength="10.5" lengthAdjust="spacingAndGlyphs">80</text>
<text x="677" y="679" fill="#000" stroke="#000" stroke-width="0.25" font-size="9.6" textLength="10.5" lengthAdjust="spacingAndGlyphs">20</text>
<text x="678" y="708" fill="#000" stroke="#000" stroke-width="0.25" font-size="9.6" textLength="5" lengthAdjust="spacingAndGlyphs">0</text>
<path d="M6 9 L13 9 L9.5 13 Z" fill="#000"/>
<text x="18" y="14" fill="#000" stroke="#000" stroke-width="0.25" font-size="9.6" textLength="54" lengthAdjust="spacingAndGlyphs">GBPUSD,H4</text>
<text x="78.6" y="14" fill="#000" stroke="#000" stroke-width="0.25" font-size="9.6" textLength="32" lengthAdjust="spacingAndGlyphs">1.64266</text>
<text x="114.2" y="14" fill="#000" stroke="#000" stroke-width="0.25" font-size="9.6" textLength="32" lengthAdjust="spacingAndGlyphs">1.64311</text>
<text x="150.5" y="14" fill="#000" stroke="#000" stroke-width="0.25" font-size="9.6" textLength="32" lengthAdjust="spacingAndGlyphs">1.64193</text>
<text x="186.7" y="14" fill="#000" stroke="#000" stroke-width="0.25" font-size="9.6" textLength="32" lengthAdjust="spacingAndGlyphs">1.64272</text>
<text x="7" y="374" fill="#000" stroke="#000" stroke-width="0.25" font-size="9.6" textLength="153" lengthAdjust="spacingAndGlyphs">MACD(12,26,9) -0.003080 -0.002265</text>
<text x="7" y="548" fill="#000" stroke="#000" stroke-width="0.25" font-size="9.6" textLength="121" lengthAdjust="spacingAndGlyphs">Stoch(13,3,3) 7.0527 11.4068</text>
<line x1="3.5" y1="711" x2="3.5" y2="716" stroke="#000"/>
<text x="2" y="724" fill="#000" stroke="#000" stroke-width="0.25" font-size="9.6" textLength="51.5" lengthAdjust="spacingAndGlyphs">27 Dec 2013</text>
<line x1="67.5" y1="711" x2="67.5" y2="716" stroke="#000"/>
<text x="66" y="724" fill="#000" stroke="#000" stroke-width="0.25" font-size="9.6" textLength="48" lengthAdjust="spacingAndGlyphs">2 Jan 00:00</text>
<line x1="131.5" y1="711" x2="131.5" y2="716" stroke="#000"/>
<text x="130" y="724" fill="#000" stroke="#000" stroke-width="0.25" font-size="9.6" textLength="48" lengthAdjust="spacingAndGlyphs">6 Jan 16:00</text>
<line x1="195.5" y1="711" x2="195.5" y2="716" stroke="#000"/>
<text x="194" y="724" fill="#000" stroke="#000" stroke-width="0.25" font-size="9.6" textLength="48" lengthAdjust="spacingAndGlyphs">9 Jan 08:00</text>
<line x1="259.5" y1="711" x2="259.5" y2="716" stroke="#000"/>
<text x="258" y="724" fill="#000" stroke="#000" stroke-width="0.25" font-size="9.6" textLength="53" lengthAdjust="spacingAndGlyphs">14 Jan 00:00</text>
<line x1="323.5" y1="711" x2="323.5" y2="716" stroke="#000"/>
<text x="322" y="724" fill="#000" stroke="#000" stroke-width="0.25" font-size="9.6" textLength="53" lengthAdjust="spacingAndGlyphs">16 Jan 16:00</text>
<line x1="387.5" y1="711" x2="387.5" y2="716" stroke="#000"/>
<text x="386" y="724" fill="#000" stroke="#000" stroke-width="0.25" font-size="9.6" textLength="53" lengthAdjust="spacingAndGlyphs">21 Jan 08:00</text>
<line x1="451.5" y1="711" x2="451.5" y2="716" stroke="#000"/>
<text x="450" y="724" fill="#000" stroke="#000" stroke-width="0.25" font-size="9.6" textLength="53" lengthAdjust="spacingAndGlyphs">24 Jan 00:00</text>
<line x1="515.5" y1="711" x2="515.5" y2="716" stroke="#000"/>
<text x="514" y="724" fill="#000" stroke="#000" stroke-width="0.25" font-size="9.6" textLength="53" lengthAdjust="spacingAndGlyphs">28 Jan 16:00</text>
<line x1="579.5" y1="711" x2="579.5" y2="716" stroke="#000"/>
<text x="578" y="724" fill="#000" stroke="#000" stroke-width="0.25" font-size="9.6" textLength="53" lengthAdjust="spacingAndGlyphs">31 Jan 08:00</text>
<text x="8" y="708" fill="#000" stroke="#000" stroke-width="0.25" font-size="9.6" textLength="228" lengthAdjust="spacingAndGlyphs">FxPro MT4, © 2001-2013, MetaQuotes Software Corp.</text>
</svg></body></html>
